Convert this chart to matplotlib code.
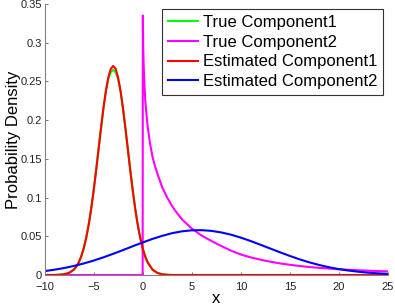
import numpy as np
import matplotlib
matplotlib.use("Agg")
import matplotlib.pyplot as plt

plt.rcParams['font.family'] = ['Liberation Sans', 'DejaVu Sans']

# Componente 1 (verdadera y estimada)
c1_x = [-10, -9, -8.5, -8, -7.5, -7, -6.75, -6.5, -6.25, -6, -5.75, -5.5, -5.25,
        -5, -4.75, -4.5, -4.25, -4, -3.75, -3.5, -3.25, -3, -2.75, -2.5, -2.25,
        -2, -1.75, -1.5, -1.25, -1, -0.75, -0.5, -0.25, 0, 0.25, 0.5, 1, 1.5,
        2, 2.5, 3, 25]
est1_y = [0, 0, 0.0003, 0.0009, 0.0027, 0.0070, 0.0109, 0.0165, 0.0242, 0.0346,
          0.0481, 0.0648, 0.0850, 0.1083, 0.1342, 0.1616, 0.1890, 0.2149, 0.2375,
          0.2550, 0.2662, 0.2700, 0.2662, 0.2550, 0.2375, 0.2149, 0.1890, 0.1616,
          0.1342, 0.1083, 0.0850, 0.0648, 0.0481, 0.0346, 0.0242, 0.0165, 0.0070,
          0.0027, 0.0009, 0.0003, 0, 0]
true1_y = [0, 0, 0.0003, 0.0009, 0.0027, 0.0070, 0.0109, 0.0165, 0.0242, 0.0346,
           0.0481, 0.0648, 0.0850, 0.1083, 0.1342, 0.1616, 0.1890, 0.2149, 0.2370,
           0.2530, 0.2620, 0.2650, 0.2620, 0.2530, 0.2370, 0.2149, 0.1890, 0.1616,
           0.1342, 0.1083, 0.0850, 0.0648, 0.0481, 0.0346, 0.0242, 0.0165, 0.0070,
           0.0027, 0.0009, 0.0003, 0, 0]

# Componente 2 verdadera (cola pesada desde x=0)
true2_x = [-10, 0, 0.02, 0.05, 0.1, 0.2, 0.3, 0.5, 0.75, 1, 1.25, 1.5, 2, 2.5, 3,
           3.5, 4, 5, 6, 7, 8, 9, 10, 11, 12, 13, 14, 15, 16, 17, 18, 19, 20,
           21, 22, 23, 24, 25]
true2_y = [0, 0, 0.335, 0.300, 0.272, 0.240, 0.220, 0.193, 0.170, 0.153, 0.141,
           0.131, 0.113, 0.100, 0.089, 0.080, 0.072, 0.060, 0.051, 0.044, 0.0375,
           0.0315, 0.0265, 0.0228, 0.0198, 0.0172, 0.0150, 0.0132, 0.0116, 0.0103,
           0.0092, 0.0083, 0.0075, 0.0067, 0.0061, 0.0056, 0.0051, 0.0047]

# Componente 2 estimada
est2_x = list(range(-10, 26))
est2_y = [0.0050, 0.0068, 0.0090, 0.0117, 0.0149, 0.0186, 0.0228, 0.0274, 0.0322,
          0.0372, 0.0420, 0.0466, 0.0506, 0.0540, 0.0564, 0.0577, 0.0579, 0.0570,
          0.0550, 0.0521, 0.0483, 0.0439, 0.0391, 0.0342, 0.0293, 0.0246, 0.0202,
          0.0163, 0.0129, 0.0100, 0.0076, 0.0057, 0.0042, 0.0030, 0.0021, 0.0014]

x_ticks = [-10, -5, 0, 5, 10, 15, 20, 25]
y_ticks = [0, 0.05, 0.1, 0.15, 0.2, 0.25, 0.3, 0.35]
y_labels = ['0', '0.05', '0.1', '0.15', '0.2', '0.25', '0.3', '0.35']

W, H = 395, 306
fig = plt.figure(figsize=(W / 100, H / 100), dpi=100)
ax = fig.add_axes([44.5 / W, 31 / H, (388 - 44.5) / W, (302 - 31) / H])

lw = 1.5
ax.plot(c1_x, true1_y, color=(0, 1, 0), lw=lw, label='True Component1')
ax.plot(true2_x, true2_y, color=(1, 0, 1), lw=lw, label='True Component2')
ax.plot(c1_x, est1_y, color=(1, 0, 0), lw=lw, label='Estimated Component1')
ax.plot(est2_x, est2_y, color=(0, 0, 1), lw=lw, label='Estimated Component2')

ax.set_xlim(-10, 25)
ax.set_ylim(0, 0.35)
ax.set_xticks(x_ticks)
ax.set_yticks(y_ticks)
ax.set_yticklabels(y_labels)

for s in ['top', 'right']:
    ax.spines[s].set_visible(False)
for s in ['left', 'bottom']:
    ax.spines[s].set_color('#808080')
    ax.spines[s].set_linewidth(0.8)
ax.tick_params(direction='in', length=2.5, width=0.6, color='#606060',
               labelsize=8, labelcolor='#222222')
ax.tick_params(axis='x', pad=5)
ax.tick_params(axis='y', pad=2)

ax.set_xlabel('x', fontsize=12, labelpad=-1)
ax.set_ylabel('Probability Density', fontsize=12)
ax.yaxis.set_label_coords(-0.068, 0.5)

leg = ax.legend(loc='upper right', bbox_to_anchor=(383.3 / W, 1 - 9.3 / H),
                bbox_transform=fig.transFigure, borderaxespad=0, fontsize=12,
                handlelength=1.8, handletextpad=0.3, borderpad=0.35,
                labelspacing=0.28, fancybox=False, framealpha=1)
leg.get_frame().set_edgecolor('#333333')
leg.get_frame().set_linewidth(0.8)

fig.savefig('out.png', dpi=100)
